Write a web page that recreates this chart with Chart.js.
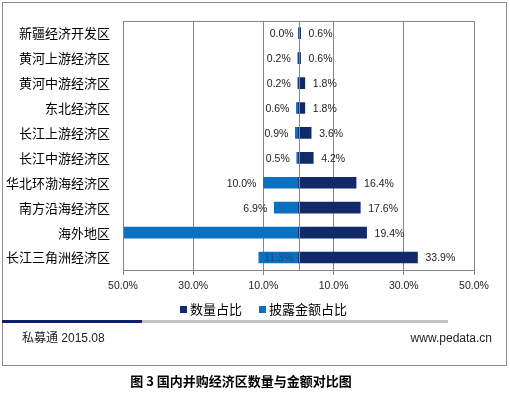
<!DOCTYPE html>
<html>
<head>
<meta charset="utf-8">
<script src="https://cdn.jsdelivr.net/npm/chart.js@4"></script>
<style>
  body { margin: 0; background: #fff; font-family: "Liberation Sans", "Noto Sans CJK SC", sans-serif; }
  #wrap { position: relative; width: 510px; height: 397px; overflow: hidden; }
  #frame { position: absolute; left: 2px; top: 2px; width: 505px; height: 364px; box-sizing: border-box; border: 1px solid #8c8c8c; }
  canvas { position: absolute; left: 0; top: 0; }
  .legend { position: absolute; top: 301px; font-size: 13px; line-height: 16px; color: #000; font-family: "Noto Sans CJK SC", sans-serif; }
  .legend i { display: inline-block; width: 7px; height: 7px; margin-right: 3px; vertical-align: 1px; }
  .rule { position: absolute; top: 320px; height: 3px; }
  .foot { position: absolute; top: 330px; font-size: 12px; line-height: 16px; color: #222; font-family: "Liberation Sans", "Noto Sans CJK SC", sans-serif; }
  #caption { position: absolute; top: 371px; left: 0; width: 482px; text-align: center; font-size: 13px; font-weight: bold; font-family: "Noto Sans CJK SC", sans-serif; color: #000; }
</style>
</head>
<body>
<div id="wrap">
  <div id="frame"></div>
  <canvas id="myChart" width="510" height="397"></canvas>
  <div class="legend" style="left:180px"><i style="background:#122a6a"></i>数量占比</div>
  <div class="legend" style="left:259px"><i style="background:#0a70c0"></i>披露金额占比</div>
  <div class="rule" style="left:2px;width:140px;background:#0d1f6e"></div>
  <div class="rule" style="left:142px;width:306px;background:#c4c4c4"></div>
  <div class="foot" style="left:22px">私募通 2015.08</div>
  <div class="foot" style="right:18px">www.pedata.cn</div>
  <div id="caption">图 3 国内并购经济区数量与金额对比图</div>
</div>
<script>
(() => {
  'use strict'

  const regions = [
    '新疆经济开发区',
    '黄河上游经济区',
    '黄河中游经济区',
    '东北经济区',
    '长江上游经济区',
    '长江中游经济区',
    '华北环渤海经济区',
    '南方沿海经济区',
    '海外地区',
    '长江三角洲经济区'
  ]
  // 数量占比 (%)
  const countShare = [0.6, 0.6, 1.8, 1.8, 3.6, 4.2, 16.4, 17.6, 19.4, 33.9]
  // 披露金额占比 (%), drawn to the left
  const amountShare = [0.0, 0.2, 0.2, 0.6, 0.9, 0.5, 10.0, 6.9, 69.4, 11.3]
  const tickValues = [-50, -30, -10, 10, 30, 50]

  const navy = '#122a6a'
  const blue = '#0a70c0'
  const gridColor = '#868686'
  const insideLabels = ['长江三角洲经济区']

  const fmt = v => Math.abs(v).toFixed(1) + '%'

  // plot frame, zero line and value labels
  const decor = {
    id: 'decor',
    afterDatasetsDraw (chart) {
      const { ctx, chartArea: a, scales: { x } } = chart
      ctx.save()
      ctx.strokeStyle = gridColor
      ctx.lineWidth = 1
      const x0 = Math.round(x.getPixelForValue(0)) + 0.5
      ctx.beginPath()
      ctx.moveTo(x0, a.top)
      ctx.lineTo(x0, a.bottom)
      ctx.stroke()
      ctx.strokeRect(Math.round(a.left) + 0.5, Math.round(a.top) + 0.5, Math.round(a.right - a.left), Math.round(a.bottom - a.top))

      ctx.font = '10.5px "Liberation Sans", Arial, sans-serif'
      ctx.textBaseline = 'middle'
      chart.data.datasets.forEach((ds, di) => {
        const meta = chart.getDatasetMeta(di)
        meta.data.forEach((bar, i) => {
          const v = ds.data[i]
          const y = bar.y + 1
          if (di === 0) {
            ctx.fillStyle = '#222'
            ctx.textAlign = 'left'
            ctx.fillText(fmt(v), bar.x + 8, y)
          } else if (insideLabels.includes(regions[i])) {
            ctx.fillStyle = '#1d4a80'
            ctx.textAlign = 'center'
            ctx.fillText(fmt(v), (bar.x + bar.base) / 2, y)
          } else if (bar.x > a.left) {
            ctx.fillStyle = '#222'
            ctx.textAlign = 'right'
            ctx.fillText(fmt(v), bar.x - 7, y)
          }
        })
      })
      ctx.restore()
    }
  }

  const ctx = document.getElementById('myChart')
  // eslint-disable-next-line no-unused-vars
  const myChart = new Chart(ctx, {
    type: 'bar',
    data: {
      labels: regions,
      datasets: [{
        label: '数量占比',
        data: countShare,
        backgroundColor: navy,
        barThickness: 11
      }, {
        label: '披露金额占比',
        data: amountShare.map(v => -v),
        backgroundColor: blue,
        barThickness: 11
      }]
    },
    options: {
      indexAxis: 'y',
      responsive: false,
      animation: false,
      layout: {
        padding: { left: 0, top: 20, right: 36, bottom: 97 }
      },
      scales: {
        x: {
          stacked: true,
          min: -50,
          max: 50,
          afterBuildTicks: scale => { scale.ticks = tickValues.map(v => ({ value: v })) },
          afterFit: scale => { scale.height = 30 },
          grid: { color: gridColor, tickLength: 5 },
          border: { display: false },
          ticks: {
            callback: v => fmt(v),
            color: '#222',
            padding: 5,
            maxRotation: 0,
            font: { family: '"Liberation Sans", Arial, sans-serif', size: 10.5 }
          }
        },
        y: {
          stacked: true,
          afterFit: scale => { scale.width = 123 },
          grid: { display: false, drawTicks: false },
          border: { display: false },
          ticks: {
            color: '#000',
            padding: 13,
            font: { family: '"Noto Sans CJK SC", sans-serif', size: 13 }
          }
        }
      },
      plugins: {
        legend: { display: false },
        tooltip: { enabled: false }
      }
    },
    plugins: [decor]
  })
})()
</script>
</body>
</html>
